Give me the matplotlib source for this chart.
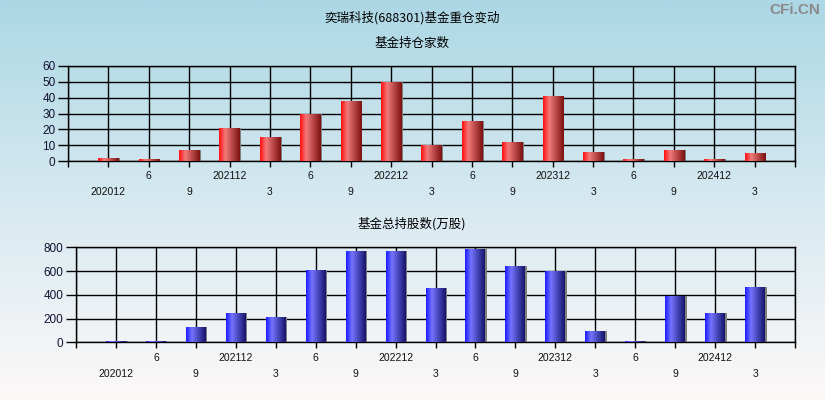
import numpy as np
import matplotlib
matplotlib.use("Agg")
import matplotlib.pyplot as plt
from matplotlib.colors import LinearSegmentedColormap
from matplotlib.transforms import blended_transform_factory

plt.rcParams["font.family"] = ["Liberation Sans", "Noto Sans CJK SC", "DejaVu Sans"]
CJK = ["Noto Sans CJK SC", "DejaVu Sans"]

# quarters shown on the x axis (two staggered label rows)
periods = ["202012", "6", "9", "202112", "3", "6", "9", "202212", "3",
           "6", "9", "202312", "3", "6", "9", "202412", "3"]
fund_count = [2, 1, 7, 21, 15, 30, 38, 50, 10, 25, 12, 41, 6, 1, 7, 1, 5]
fund_shares = [9, 9, 127, 247, 213, 609, 769, 769, 458, 786, 643, 601, 95, 9, 390, 247, 466]

title = "奕瑞科技(688301)基金重仓变动"
top_title = "基金持仓家数"
bottom_title = "基金总持股数(万股)"

red_cmap = LinearSegmentedColormap.from_list(
    "red_cyl", [(0, "#ff0f0f"), (0.3, "#f27a7a"), (1, "#7c1010")])
blue_cmap = LinearSegmentedColormap.from_list(
    "blue_cyl", [(0, "#1c1cff"), (0.3, "#7474ff"), (1, "#15156c")])


def draw_panel(ax, values, ymax, ystep, cmap):
    n = len(values)
    xs = np.arange(1, n + 1)
    width = 0.5
    # shadow strip on the right side of each bar
    ax.bar(xs + 0.04, values, width=width, color="#808080", zorder=2)
    bars = ax.bar(xs, values, width=width, color="none", zorder=3)
    grad = np.linspace(0, 1, 64).reshape(1, -1)
    for b in bars:
        x0 = b.get_x()
        h = b.get_height()
        im = ax.imshow(grad, cmap=cmap, extent=[x0, x0 + b.get_width(), 0, h],
                       aspect="auto", zorder=3, interpolation="bilinear")
        im.set_clip_path(b)

    ax.set_xlim(0, n + 1)
    ax.set_ylim(0, ymax)
    ax.set_yticks(np.arange(0, ymax + 1, ystep))
    ax.set_xticks(np.arange(0, n + 2))
    ax.set_axisbelow(True)
    ax.grid(True, color="black", linewidth=1.0)
    ax.set_facecolor("none")
    for s in ax.spines.values():
        s.set_color("black")
        s.set_linewidth(1.0)
    ax.tick_params(axis="x", length=4, width=1, color="black", labelbottom=False)
    ax.tick_params(axis="y", length=7, width=1, color="black", pad=2,
                   labelsize=8.5, labelcolor="#111133")

    tr = blended_transform_factory(ax.transData, ax.transAxes)
    for i, lab in enumerate(periods):
        off = -11 if i % 2 == 1 else -22.5
        ax.annotate(lab, xy=(xs[i], 0), xycoords=tr, xytext=(0, off),
                    textcoords="offset points", ha="center", va="center",
                    fontsize=7.5, color="#111111")


fig = plt.figure(figsize=(8.25, 4.0), dpi=100)

# background gradient: light blue at top fading to near white at bottom
bg = fig.add_axes([0, 0, 1, 1], zorder=-10)
bg_cmap = LinearSegmentedColormap.from_list("bg", ["#fdf8f8", "#d6e9f0", "#acd7e5"])
bg.imshow(np.linspace(0, 1, 256).reshape(-1, 1), cmap=bg_cmap, aspect="auto",
          origin="lower", extent=[0, 1, 0, 1])
bg.set_axis_off()

ax1 = fig.add_axes([68 / 825, 1 - 161 / 400, 727 / 825, 95 / 400])
draw_panel(ax1, fund_count, 60, 10, red_cmap)

ax2 = fig.add_axes([76 / 825, 1 - 342.3 / 400, 719 / 825, 95 / 400])
draw_panel(ax2, fund_shares, 800, 200, blue_cmap)

fig.text(412 / 825, 1 - 18 / 400, title, ha="center", va="center",
         fontsize=9, family=CJK, color="black")
fig.text(412 / 825, 1 - 43 / 400, top_title, ha="center", va="center",
         fontsize=9, family=CJK, color="black")
fig.text(412 / 825, 1 - 224 / 400, bottom_title, ha="center", va="center",
         fontsize=9, family=CJK, color="black")
fig.text(820 / 825, 1 - 10 / 400, "CFi.CN", ha="right", va="center",
         fontsize=11, fontweight="bold", color="#8a8a8a")

fig.savefig("out.png", dpi=100)
